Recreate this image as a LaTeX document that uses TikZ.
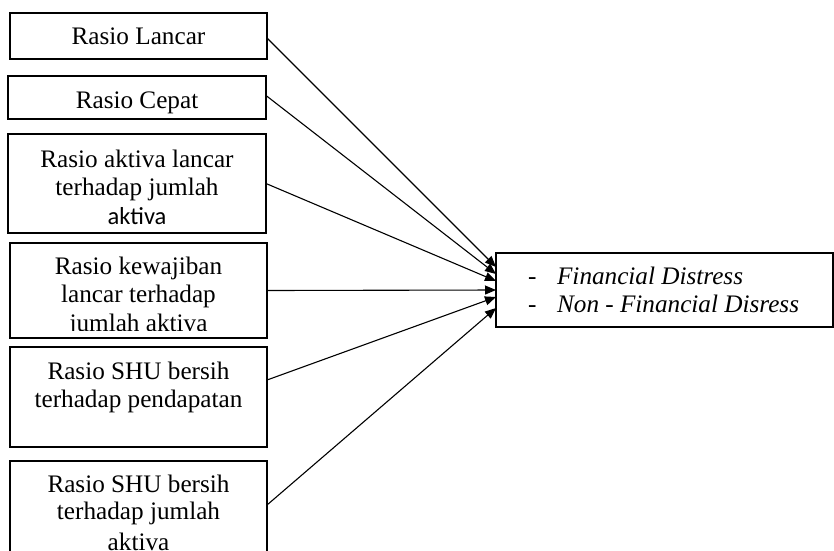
\documentclass[tikz,border=0pt]{standalone}
\usepackage{fontspec}
\setmainfont{Liberation Serif}
\newfontfamily\calib{Carlito}
\usetikzlibrary{arrows.meta,calc}
\begin{document}
\begin{tikzpicture}[x=1pt,y=-1pt]
\tikzset{
 bx/.style={draw, line width=1.4pt, inner sep=0pt, outer sep=0pt},
 txt/.style={inner sep=0pt, anchor=base, font=\fontsize{25.2}{28.5}\selectfont},
 conn/.style={line width=1.1pt, -{Triangle[length=11pt,width=9pt]}},
}
\useasboundingbox (0,0) rectangle (834,550);
\clip (0,0) rectangle (834,550);
% boxes
\node[bx, minimum width=257, minimum height=46] (b1) at (138.5,36) {};
\node[bx, minimum width=258, minimum height=43] (b2) at (137,97.5) {};
\node[bx, minimum width=258, minimum height=99] (b3) at (137,183.5) {};
\node[bx, minimum width=257, minimum height=95] (b4) at (138.5,290.5) {};
\node[bx, minimum width=257, minimum height=100] (b5) at (138.5,397) {};
\node[bx, minimum width=257, minimum height=159] (b6) at (138.5,540.5) {};
\node[bx, minimum width=337, minimum height=74] (R) at (664.5,290) {};
% texts
\node[txt] (t1) at (138.5,44) {Rasio Lancar};
\node[txt] (t2) at (137,108) {Rasio Cepat};
\node[txt] (t3) at (137,167) {\begin{tabular}[t]{@{}c@{}}Rasio aktiva lancar\\ terhadap jumlah\\ {\calib\fontsize{24.5}{28.5}\selectfont aktiva}\end{tabular}};
\begin{scope}
\clip (b4.north west) rectangle ($(b4.south east)+(0,-8)$);
\node[txt] (t4) at (138.5,274) {\begin{tabular}[t]{@{}c@{}}Rasio kewajiban\\ lancar terhadap\\ jumlah aktiva\end{tabular}};
\end{scope}
\node[txt] (t5) at (138.5,379) {\begin{tabular}[t]{@{}c@{}}Rasio SHU bersih\\ terhadap pendapatan\end{tabular}};
\node[txt] (t6) at (138.5,492) {\begin{tabular}[t]{@{}c@{}}Rasio SHU bersih\\[-1.5pt] terhadap jumlah\\[2.5pt] aktiva\end{tabular}};
\node[txt, anchor=base west] (tr) at (528,284) {\begin{tabular}[t]{@{}l@{\hspace{20.5pt}}l@{}}-&\textit{Financial Distress}\\[-0.5pt]-&\textit{Non - Financial Disress}\end{tabular}};
% connectors
\draw[conn] ($(b1.east)+(0,2)$) -- ($(R.west)+(0,-23)$);
\draw[conn] ($(b2.east)+(0,-2)$) -- ($(R.west)+(0,-16)$);
\draw[conn] (b3.east) -- ($(R.west)+(0,-9)$);
\draw[conn] (b4.east) -- (R.west);
\draw[conn] ($(b5.north east)+(0,33)$) -- ($(R.west)+(0,7)$);
\draw[conn] ($(b6.north east)+(0,44)$) -- ($(R.west)+(0,18)$);
\end{tikzpicture}
\end{document}
